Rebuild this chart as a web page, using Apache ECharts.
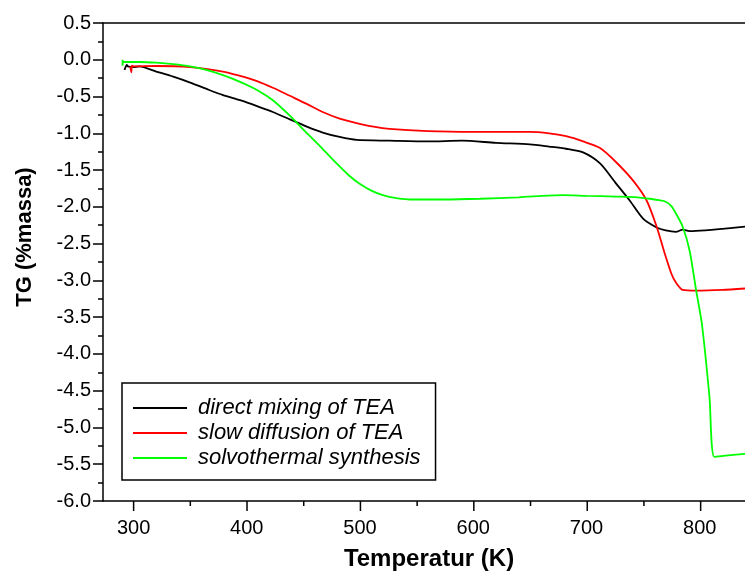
<!DOCTYPE html>
<html>
<head>
<meta charset="utf-8">
<script src="https://cdn.jsdelivr.net/npm/echarts@6/dist/echarts.min.js"></script>
<style>
  html, body { margin: 0; padding: 0; background: #fff; }
  #tgChart { width: 745px; height: 576px; }
</style>
</head>
<body>
<div id="tgChart"></div>
<script>
// ---- data ----
let seriesNames = ["direct mixing of TEA", "slow diffusion of TEA", "solvothermal synthesis"];
let seriesColors = ["#000000", "#ff0000", "#00ff00"];

let mixT = [292, 294, 295, 300, 305, 320, 335, 350, 365, 379, 394, 409, 423, 438, 453, 467, 482, 497, 526, 560, 590, 620, 650, 667, 682, 697, 712, 726, 738, 750, 762, 770, 779, 785, 791, 805, 820, 840];
let mixTG = [-0.14, -0.07, -0.09, -0.1, -0.09, -0.16, -0.23, -0.31, -0.40, -0.48, -0.55, -0.63, -0.71, -0.81, -0.91, -0.99, -1.05, -1.09, -1.10, -1.11, -1.10, -1.13, -1.15, -1.18, -1.21, -1.26, -1.41, -1.68, -1.91, -2.16, -2.28, -2.32, -2.34, -2.31, -2.33, -2.32, -2.30, -2.27];

let diffT = [297, 298, 298.5, 300, 320, 350, 379, 394, 409, 423, 438, 453, 467, 482, 497, 512, 526, 560, 600, 650, 667, 682, 697, 712, 726, 741, 753, 762, 769, 775, 779, 785, 797, 820, 840];
let diffTG = [-0.09, -0.17, -0.08, -0.09, -0.085, -0.10, -0.16, -0.22, -0.29, -0.38, -0.49, -0.60, -0.71, -0.80, -0.86, -0.91, -0.94, -0.97, -0.98, -0.98, -1.0, -1.04, -1.11, -1.20, -1.39, -1.64, -1.91, -2.27, -2.63, -2.91, -3.03, -3.13, -3.14, -3.13, -3.11];

let solvT = [290.3, 290.3, 291, 306, 320, 335, 350, 365, 379, 394, 409, 423, 438, 450, 465, 480, 490, 500, 510, 520, 532, 547, 575, 606, 640, 679, 700, 726, 745, 756, 764, 770, 775, 779, 785, 791, 797, 802, 808.6, 813, 825, 840];
let solvTG = [0.0, -0.08, -0.03, -0.03, -0.04, -0.06, -0.09, -0.14, -0.21, -0.30, -0.41, -0.55, -0.76, -0.95, -1.18, -1.42, -1.57, -1.69, -1.78, -1.84, -1.88, -1.90, -1.90, -1.89, -1.87, -1.84, -1.85, -1.86, -1.87, -1.89, -1.91, -1.93, -1.99, -2.09, -2.27, -2.59, -3.15, -3.6, -4.58, -5.40, -5.38, -5.36];

// tick labels
let xMajorTicks = [300, 400, 500, 600, 700, 800];
let xMinorTicks = [350, 450, 550, 650, 750];

function zip(xs, ys) {
  return xs.map((x, i) => [x, ys[i]]);
}

let allT = [mixT, diffT, solvT];
let allTG = [mixTG, diffTG, solvTG];

// layout
let chartW = 745, chartH = 576;
let gridL = 103, gridR = -1, gridT = 23, gridB = 75;
let xMin = 273, xMax = 840;

let myChart = echarts.init(document.getElementById("tgChart"));

function axisLine() {
  return { show: true, onZero: false, lineStyle: { color: "#000", width: 1.5 } };
}
function tickLine() {
  return { color: "#000", width: 1.5 };
}

// x ticks below the bottom axis, placed on the same linear scale as the axis
function tickGraphic(v, len) {
  let px = gridL + ((v - xMin) / (xMax - xMin)) * (chartW - gridL - gridR);
  let py = chartH - gridB;
  return {
    type: "line",
    silent: true,
    z: 100,
    shape: { x1: px, y1: py, x2: px, y2: py + len },
    style: { stroke: "#000", lineWidth: 1.5 },
  };
}

let yTitle = {
  type: "text",
  x: 25,
  y: 237,
  rotation: Math.PI / 2,
  style: {
    text: "TG (%massa)",
    fontFamily: "Liberation Sans",
    fontWeight: "bold",
    fontSize: 22,
    fill: "#000",
    align: "center",
    verticalAlign: "middle",
  },
};

myChart.setOption({
  animation: false,
  color: seriesColors,
  grid: { left: gridL, right: gridR, top: gridT, bottom: gridB },
  legend: {
    orient: "vertical",
    left: 122,
    top: 383,
    data: seriesNames.map((n) => ({ name: n, icon: "rect" })),
    borderColor: "#000",
    borderWidth: 1.5,
    borderRadius: 0,
    padding: [13, 15, 10, 11],
    itemWidth: 54,
    itemHeight: 2,
    itemGap: 1,
    textStyle: {
      fontFamily: "Liberation Sans",
      fontStyle: "italic",
      fontSize: 22,
      color: "#000",
      lineHeight: 24,
      padding: [0, 0, 0, 6],
    },
  },
  xAxis: [
    {
      type: "value",
      min: xMin,
      max: xMax,
      name: "Temperatur (K)",
      nameLocation: "middle",
      nameGap: 46,
      nameTextStyle: { fontFamily: "Liberation Sans", fontWeight: "bold", fontSize: 24, color: "#000", padding: [0, 0, 0, 10] },
      axisLine: axisLine(),
      axisTick: { show: false },
      axisLabel: { customValues: xMajorTicks, fontFamily: "Liberation Sans", fontSize: 20, color: "#000", margin: 17 },
      splitLine: { show: false },
    },
    {
      // top frame line
      type: "value",
      position: "top",
      min: xMin,
      max: xMax,
      axisLine: axisLine(),
      axisTick: { show: false },
      axisLabel: { show: false },
      splitLine: { show: false },
    },
  ],
  yAxis: {
    type: "value",
    min: -6,
    max: 0.5,
    interval: 0.5,
    axisLine: axisLine(),
    axisTick: { show: true, length: 10, lineStyle: tickLine() },
    minorTick: { show: true, splitNumber: 2, length: 5, lineStyle: tickLine() },
    axisLabel: {
      fontFamily: "Liberation Sans",
      fontSize: 20,
      color: "#000",
      margin: 12,
      formatter: (v) => v.toFixed(1),
    },
    splitLine: { show: false },
    minorSplitLine: { show: false },
  },
  graphic: [yTitle]
    .concat(xMajorTicks.map((v) => tickGraphic(v, 10)))
    .concat(xMinorTicks.map((v) => tickGraphic(v, 5))),
  series: seriesNames.map((name, i) => ({
    name: name,
    type: "line",
    xAxisIndex: 0,
    yAxisIndex: 0,
    symbol: "none",
    smooth: 0.25,
    lineStyle: { width: 1.8, color: seriesColors[i] },
    itemStyle: { color: seriesColors[i] },
    data: zip(allT[i], allTG[i]),
  })),
});
</script>
</body>
</html>
